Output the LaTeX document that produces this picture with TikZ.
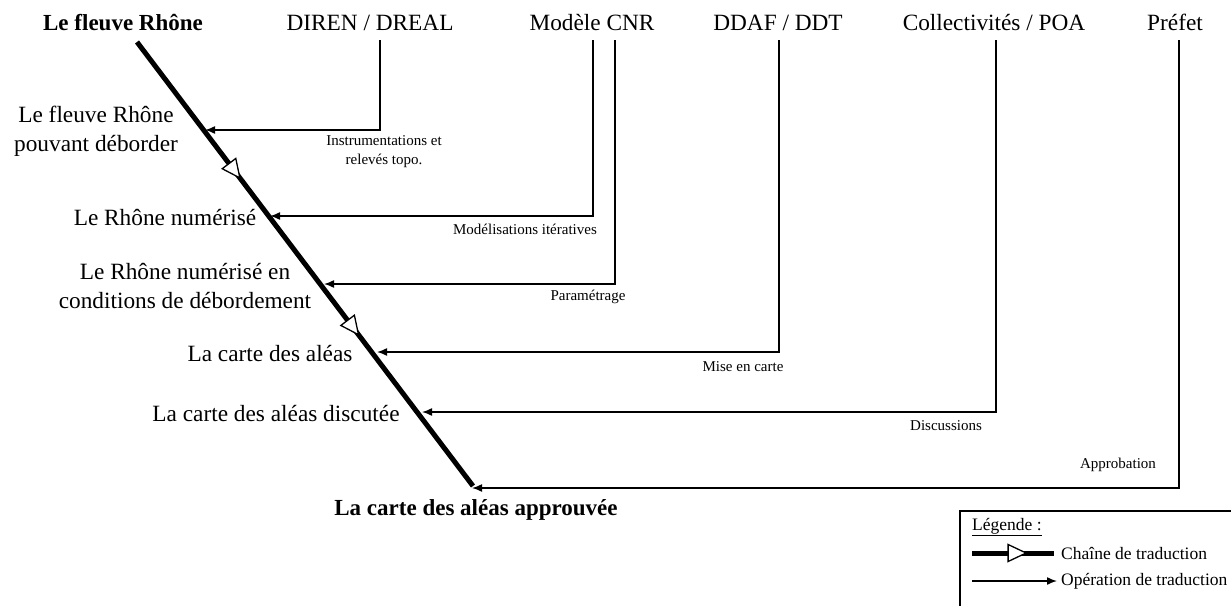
\documentclass[tikz,border=0pt]{standalone}
\usepackage{fontspec}
\setmainfont{Liberation Serif}
\usetikzlibrary{arrows.meta,decorations.markings}
\tikzset{
  x=1pt,y=-1pt,
  big/.style={font=\fontsize{23.3}{29}\selectfont,inner sep=0pt,align=center},
  bigb/.style={font=\fontsize{23}{29}\selectfont\bfseries,inner sep=0pt,align=center},
  head/.style={big,anchor=base},
  small/.style={font=\fontsize{15}{19}\selectfont,inner sep=0pt,align=center},
  leg/.style={font=\fontsize{17.5}{21}\selectfont,inner sep=0pt,anchor=west},
  chainline/.style={line width=5pt},
  opline/.style={line width=1.5pt,-{Latex[length=10pt,width=8pt]}},
  opentri/.pic={\draw[line width=1.3pt,fill=white,line join=miter] (-9pt,-8.5pt) -- (9pt,0pt) -- (-9pt,8.5pt) -- cycle;},
}
\begin{document}
\begin{tikzpicture}
\useasboundingbox (0,0) rectangle (1231,605);
\clip (0,0) rectangle (1231,605);
% headers
\node[bigb,anchor=base] (title) at (123,30) {Le fleuve Rhône};
\node[head] (diren) at (370,30) {DIREN / DREAL};
\node[head] (cnr) at (592,30) {Modèle CNR};
\node[head] (ddaf) at (778,30) {DDAF / DDT};
\node[head] (coll) at (994,30) {Collectivités / POA};
\node[head] (pref) at (1175,30) {Préfet};
% left labels
\node[big] (l1) at (96,131) {Le fleuve Rhône\\pouvant déborder};
\node[big] (l2) at (165,218) {Le Rhône numérisé};
\node[big] (l3) at (185,286) {Le Rhône numérisé en\\conditions de débordement};
\node[big] (l4) at (270,354) {La carte des aléas};
\node[big] (l5) at (276,414) {La carte des aléas discutée};
\node[bigb] (l6) at (476,510) {La carte des aléas approuvée};
% chain
\coordinate (cs) at (137,42);
\coordinate (ce) at (473,486);
\draw[chainline] (cs) -- (ce);
\path (cs) -- (ce) pic[pos=0.29,sloped] {opentri} pic[pos=0.643,sloped] {opentri};
% operation arrows
\coordinate (d1) at (380,40); \coordinate (t1) at (205,130);
\coordinate (d2) at (593,40); \coordinate (t2) at (270,216);
\coordinate (d3) at (615,40); \coordinate (t3) at (324,284);
\coordinate (d4) at (779,40); \coordinate (t4) at (377,352);
\coordinate (d5) at (996,40); \coordinate (t5) at (422,412);
\coordinate (d6) at (1179,40); \coordinate (t6) at (472,488);
\draw[opline,line join=miter] (d1) |- (t1);
\draw[opline,line join=miter] (d2) |- (t2);
\draw[opline,line join=miter] (d3) |- (t3);
\draw[opline,line join=miter] (d4) |- (t4);
\draw[opline,line join=miter] (d5) |- (t5);
\draw[opline,line join=miter] (d6) |- (t6);
% operation labels
\node[small] (o1) at (384,152) {Instrumentations et\\relevés topo.};
\node[small] (o2) at (525,229) {Modélisations itératives};
\node[small] (o3) at (588,297) {Paramétrage};
\node[small] (o4) at (743,367) {Mise en carte};
\node[small] (o5) at (946,426) {Discussions};
\node[small] (o6) at (1118,465) {Approbation};
% legend
\draw[line width=1.5pt] (960,511) rectangle (1260,640);
\node[leg] (lt) at (972,527) {\underline{Légende :}};
\coordinate (a1) at (972,553); \coordinate (b1) at (1054,553);
\draw[line width=5pt] (a1) -- (b1);
\path (a1) -- (b1) pic[pos=0.55] {opentri};
\node[leg] (lc) at (1061,553) {Chaîne de traduction};
\coordinate (a2) at (972,581); \coordinate (b2) at (1057,581);
\draw[opline] (a2) -- (b2);
\node[leg] (lo) at (1061,581) {Opération de traduction};
\end{tikzpicture}
\end{document}
